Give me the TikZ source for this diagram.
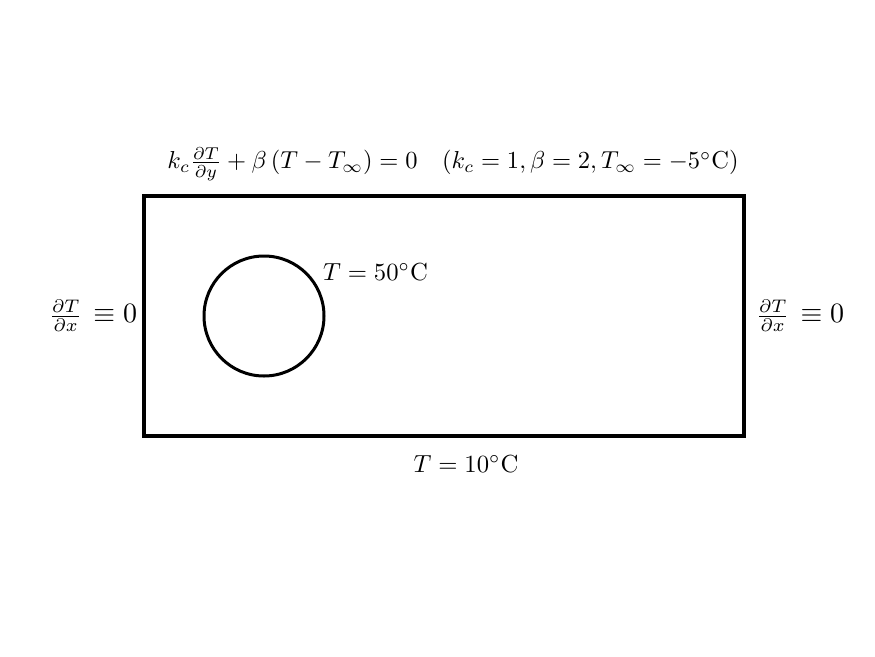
\documentclass[tikz,border=0pt]{standalone}
\usepackage{graphicx}
\newcommand{\sidelabel}{\scalebox{2.6}{$\frac{\partial T}{\partial x}$}\hspace{11pt}\scalebox{2.8}{$\equiv 0$}}
\begin{document}
\begin{tikzpicture}[x=1pt,y=-1pt,
  lbl/.style={inner sep=0pt},
  wall/.style={line width=4pt,line cap=rect},
  hole/.style={line width=3pt}]
\useasboundingbox (0,0) rectangle (875,656);
\coordinate (bl) at (144,436);
\coordinate (tr) at (744,196);
\draw[wall] (bl) rectangle (tr);
\node[draw,hole,circle,minimum size=120pt,inner sep=0pt] (c) at (264,316) {};
\node[lbl] (top) at (453,164) {\scalebox{2.45}{$k_c\frac{\partial T}{\partial y}+\beta\left(T-T_\infty\right)=0\quad(k_c=1,\beta=2,T_\infty=-5^\circ\mathrm{C})$}};
\node[lbl] (left) at (93,316) {\sidelabel};
\node[lbl] (right) at (800,316) {\sidelabel};
\node[lbl,anchor=west] (hot) at (323,272) {\scalebox{2.47}{$T=50^\circ\mathrm{C}$}};
\node[lbl] (bot) at (466,464) {\scalebox{2.47}{$T=10^\circ\mathrm{C}$}};
\end{tikzpicture}
\end{document}
